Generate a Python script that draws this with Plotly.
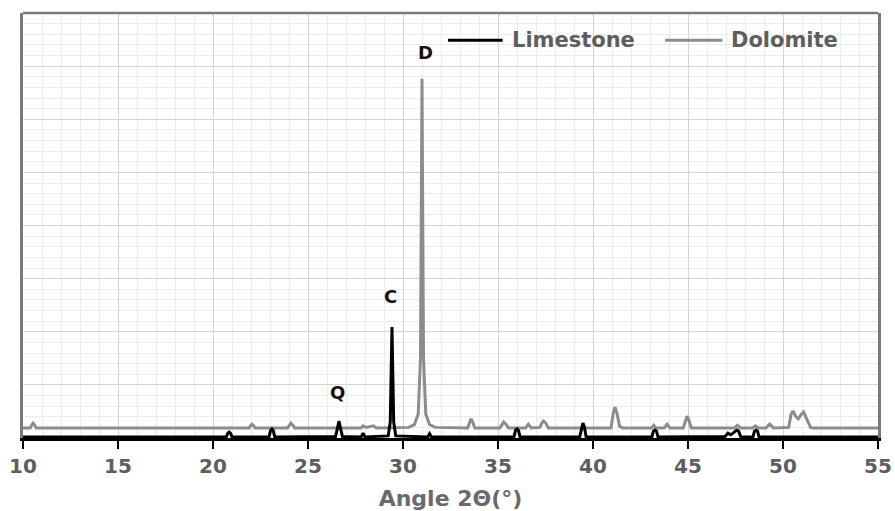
import plotly.graph_objects as go

# ---- data (2θ in degrees, intensity in arbitrary units) ----
limestone_x = [10.0,
               20.7, 20.78, 20.85, 20.92, 21.0,
               22.95, 23.03, 23.1, 23.17, 23.25,
               26.45, 26.56, 26.63, 26.70, 26.81,
               27.8, 27.9, 28.0,
               29.22, 29.33, 29.42, 29.51, 29.62,
               31.3, 31.4, 31.5,
               35.84, 35.92, 36.0, 36.08, 36.16,
               39.3, 39.4, 39.47, 39.54, 39.64,
               43.1, 43.18, 43.26, 43.34, 43.42,
               46.95, 47.1, 47.25, 47.5, 47.58, 47.66, 47.78,
               48.42, 48.5, 48.58, 48.66, 48.74,
               55.0]
limestone_y = [0.02,
               0.02, 0.09, 0.11, 0.09, 0.02,
               0.02, 0.14, 0.17, 0.14, 0.02,
               0.03, 0.20, 0.32, 0.20, 0.03,
               0.02, 0.09, 0.02,
               0.04, 0.30, 2.09, 0.30, 0.04,
               0.02, 0.08, 0.02,
               0.02, 0.14, 0.17, 0.14, 0.02,
               0.02, 0.22, 0.28, 0.22, 0.02,
               0.02, 0.13, 0.15, 0.13, 0.02,
               0.03, 0.09, 0.06, 0.13, 0.15, 0.13, 0.02,
               0.02, 0.13, 0.15, 0.13, 0.02,
               0.02]

dolomite_x = [10.0,
              10.38, 10.47, 10.53, 10.6, 10.7,
              21.9, 22.0, 22.05, 22.12, 22.22,
              23.92, 24.02, 24.1, 24.18, 24.3,
              27.8, 27.9, 28.05, 28.45, 28.6,
              30.3, 30.6, 30.8, 30.92, 31.0, 31.08, 31.2, 31.4, 31.7,
              33.4, 33.5, 33.58, 33.66, 33.78,
              35.1, 35.22, 35.3, 35.4, 35.55,
              36.45, 36.6, 36.75,
              37.2, 37.32, 37.4, 37.5, 37.65,
              40.95, 41.07, 41.16, 41.25, 41.4, 41.55,
              43.1, 43.2, 43.3,
              43.75, 43.9, 44.05,
              44.75, 44.87, 44.95, 45.03, 45.18,
              47.45, 47.6, 47.75,
              48.4, 48.55, 48.7,
              49.1, 49.3, 49.5,
              50.3, 50.43, 50.53, 50.65, 50.8, 50.97, 51.08, 51.22, 51.45, 51.6,
              55.0]
dolomite_y = [0.19,
              0.19, 0.25, 0.28, 0.25, 0.19,
              0.19, 0.24, 0.26, 0.24, 0.19,
              0.19, 0.25, 0.28, 0.25, 0.19,
              0.19, 0.23, 0.20, 0.23, 0.19,
              0.20, 0.25, 0.45, 1.50, 6.76, 1.50, 0.45, 0.25, 0.20,
              0.19, 0.31, 0.36, 0.31, 0.19,
              0.19, 0.27, 0.30, 0.27, 0.19,
              0.19, 0.26, 0.19,
              0.20, 0.29, 0.32, 0.29, 0.19,
              0.19, 0.48, 0.58, 0.48, 0.22, 0.19,
              0.19, 0.24, 0.19,
              0.19, 0.26, 0.19,
              0.19, 0.35, 0.41, 0.35, 0.19,
              0.19, 0.24, 0.19,
              0.19, 0.23, 0.19,
              0.19, 0.26, 0.19,
              0.20, 0.45, 0.51, 0.42, 0.36, 0.45, 0.49, 0.38, 0.20, 0.19,
              0.19]

peak_labels = ["Q", "C", "D"]
peak_label_x = [26.53, 29.32, 31.16]
peak_label_y = [0.85, 2.66, 7.25]

series_names = ["Limestone", "Dolomite"]
series_colors = ["#000000", "#8c8c8c"]

x_ticks = [10, 15, 20, 25, 30, 35, 40, 45, 50, 55]

FONT = "DejaVu Sans"

fig = go.Figure()
fig.add_trace(go.Scatter(x=dolomite_x, y=dolomite_y, mode="lines", name=series_names[1],
                         line=dict(color=series_colors[1], width=3), showlegend=False))
fig.add_trace(go.Scatter(x=limestone_x, y=limestone_y, mode="lines", name=series_names[0],
                         line=dict(color=series_colors[0], width=3), showlegend=False))

for t, x, y in zip(peak_labels, peak_label_x, peak_label_y):
    fig.add_annotation(x=x, y=y, text=t, showarrow=False,
                       font=dict(family=FONT, size=18, color="#111111", weight="bold"))

# manual legend (key lines + texts) at the top of the plot area
legend_key_x0 = [0.497, 0.751]
legend_key_x1 = [0.561, 0.818]
legend_text_x = [0.570, 0.826]
legend_y = 0.936
for name, col, k0, k1, tx in zip(series_names, series_colors, legend_key_x0,
                                 legend_key_x1, legend_text_x):
    fig.add_shape(type="line", xref="paper", yref="paper", x0=k0, x1=k1,
                  y0=legend_y, y1=legend_y, line=dict(color=col, width=3))
    fig.add_annotation(xref="paper", yref="paper", x=tx, y=legend_y, xanchor="left",
                       yanchor="middle", text=name, showarrow=False,
                       font=dict(family=FONT, size=21, color="#5e5e5e", weight="bold"))

# top border
fig.add_shape(type="line", xref="paper", yref="paper", x0=0, x1=1, y0=1, y1=1,
              line=dict(color="#7a7a7a", width=2.5))

fig.update_layout(
    width=895, height=511,
    margin=dict(l=23, r=17, t=13, b=73),
    paper_bgcolor="white", plot_bgcolor="white",
    showlegend=False,
    xaxis=dict(range=[10, 55], tickvals=x_ticks, ticktext=[str(v) for v in x_ticks],
               automargin=False,
               showgrid=True, gridcolor="#d4d4d4", gridwidth=1,
               minor=dict(dtick=1, tick0=10, showgrid=True, gridcolor="#ececec", gridwidth=1),
               ticks="outside", ticklen=8, tickwidth=2, tickcolor="#000000",
               showline=True, linecolor="#000000", linewidth=3, zeroline=False,
               tickfont=dict(family=FONT, size=20, color="#5e5e5e", weight="bold"),
               title=dict(text="Angle 2Θ(°)", standoff=14,
                          font=dict(family=FONT, size=22, color="#6a6a6a", weight="bold"))),
    yaxis=dict(range=[0, 8], dtick=1, showticklabels=False, automargin=False,
               showgrid=True, gridcolor="#d4d4d4", gridwidth=1,
               minor=dict(dtick=0.2, showgrid=True, gridcolor="#ececec", gridwidth=1),
               showline=True, linecolor="#7a7a7a", linewidth=2.5, mirror=True,
               zeroline=False, ticks=""),
)

fig.write_html("out.html")
